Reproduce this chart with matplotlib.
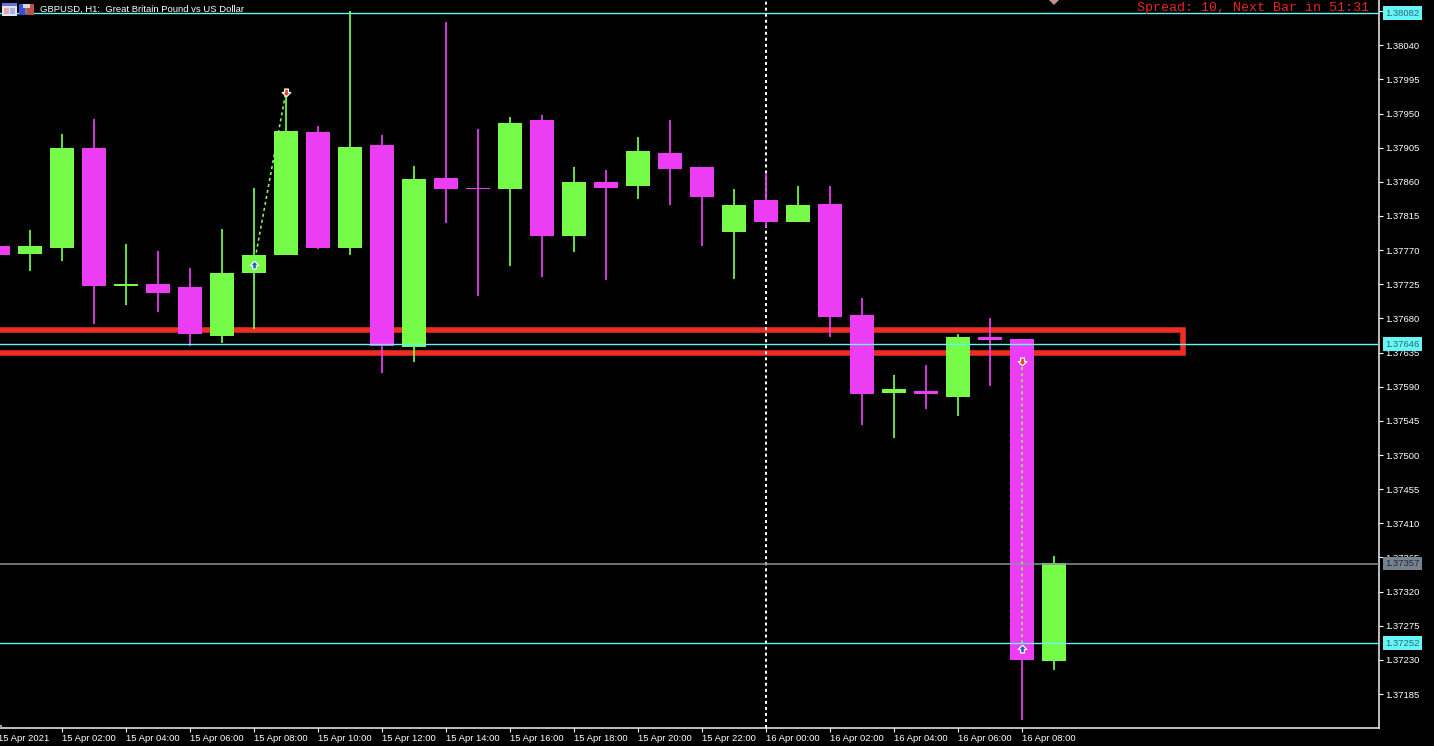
import matplotlib
matplotlib.use('Agg')
import matplotlib.pyplot as plt
from matplotlib.patches import Rectangle

# Candle data (GBPUSD H1, one bar per hour from 15 Apr 00:00)
hours = list(range(34))
opens = [1.37776, 1.37765, 1.37773, 1.37904, 1.37723, 1.37726, 1.37722, 1.37657, 1.37740,
         1.37764, 1.37926, 1.37773, 1.37908, 1.37643, 1.37865, 1.37852, 1.37851, 1.37941,
         1.37789, 1.37860, 1.37855, 1.37898, 1.37879, 1.37794, 1.37836, 1.37807, 1.37831,
         1.37684, 1.37582, 1.37585, 1.37577, 1.37655, 1.37653, 1.37229]
highs = [1.37776, 1.37797, 1.37923, 1.37943, 1.37778, 1.37769, 1.37747, 1.37798, 1.37852,
         1.37977, 1.37933, 1.38085, 1.37922, 1.37881, 1.38070, 1.37929, 1.37946, 1.37948,
         1.37880, 1.37876, 1.37919, 1.37942, 1.37879, 1.37851, 1.37872, 1.37854, 1.37854,
         1.37707, 1.37605, 1.37619, 1.37660, 1.37680, 1.37653, 1.37367]
lows = [1.37763, 1.37742, 1.37756, 1.37672, 1.37698, 1.37688, 1.37644, 1.37647, 1.37666,
        1.37764, 1.37772, 1.37763, 1.37608, 1.37623, 1.37806, 1.37709, 1.37749, 1.37734,
        1.37767, 1.37730, 1.37838, 1.37829, 1.37775, 1.37732, 1.37801, 1.37807, 1.37655,
        1.37539, 1.37522, 1.37560, 1.37551, 1.37591, 1.37151, 1.37217]
closes = [1.37763, 1.37775, 1.37905, 1.37723, 1.37726, 1.37714, 1.37659, 1.37740, 1.37764,
          1.37927, 1.37773, 1.37906, 1.37644, 1.37864, 1.37850, 1.37850, 1.37938, 1.37789,
          1.37860, 1.37852, 1.37900, 1.37877, 1.37840, 1.37829, 1.37807, 1.37829, 1.37682,
          1.37580, 1.37587, 1.37581, 1.37656, 1.37652, 1.37230, 1.37358]

# Price axis
price_ticks = [1.38085, 1.38040, 1.37995, 1.37950, 1.37905, 1.37860, 1.37815, 1.37770, 1.37725,
               1.37680, 1.37635, 1.37590, 1.37545, 1.37500, 1.37455, 1.37410, 1.37365, 1.37320,
               1.37275, 1.37230, 1.37185]

# Time axis
time_ticks = list(range(0, 34, 2))
time_labels = ['15 Apr 2021', '15 Apr 02:00', '15 Apr 04:00', '15 Apr 06:00', '15 Apr 08:00',
               '15 Apr 10:00', '15 Apr 12:00', '15 Apr 14:00', '15 Apr 16:00', '15 Apr 18:00',
               '15 Apr 20:00', '15 Apr 22:00', '16 Apr 00:00', '16 Apr 02:00', '16 Apr 04:00',
               '16 Apr 06:00', '16 Apr 08:00']

# Horizontal levels
cyan_levels = [1.38082, 1.37646, 1.37252]
bid_level = 1.37357

# Trades: entry / exit arrows joined by a dashed line
trade_hours = [(8, 9), (32, 32)]
trade_prices = [(1.37751, 1.37979), (1.37624, 1.37245)]
trade_open_up = [True, False]

# Red zone
zone_top = 1.376645
zone_bottom = 1.37634
zone_right = 37.02

GREEN = '#76fb48'
MAGENTA = '#ec3cf4'
RED = '#ee2e22'
CYAN = '#66f6f6'
GRAY = '#8793a1'
FONT = 'Liberation Sans'
W, H = 1434, 746

fig = plt.figure(figsize=(W / 100, H / 100), dpi=100, facecolor='black')
ax = fig.add_axes([-4 / W, (H - 728) / H, 1383 / W, 728 / H], facecolor='black')
ax.set_xlim(-0.0625, 43.156)
ax.set_ylim(1.371403, 1.380996)

# zone sits behind everything else
ax.add_patch(Rectangle((-2, zone_bottom), zone_right + 2, zone_top - zone_bottom, fill=False,
                       edgecolor=RED, linewidth=4.0, joinstyle='miter', zorder=1))

# period separator
ax.axvline(24, color='white', linewidth=1.4, linestyle=(0, (1.55, 1.55)), zorder=1.5)

# candles
colors = [GREEN if c >= o else MAGENTA for o, c in zip(opens, closes)]
ax.vlines(hours, lows, highs, colors=colors, linewidth=1.25, zorder=2)
bottoms = [min(o, c) for o, c in zip(opens, closes)]
heights = [abs(c - o) for o, c in zip(opens, closes)]
ax.bar(hours, heights, bottom=bottoms, width=0.72, color=colors, linewidth=0, zorder=2.2)

# levels
for level in cyan_levels:
    ax.axhline(level, color=CYAN, linewidth=1.0, zorder=3)
ax.axhline(bid_level, color=GRAY, linewidth=1.1, zorder=3)

# trades
up_arrow = [(0, 1), (1, 0), (0.45, 0), (0.45, -0.8), (-0.45, -0.8), (-0.45, 0), (-1, 0), (0, 1)]
down_arrow = [(x, -y) for x, y in up_arrow]
for xs, ys, open_up in zip(trade_hours, trade_prices, trade_open_up):
    ax.plot(xs, ys, color='#84fb60', linewidth=1.15, linestyle=(0, (1.9, 1.9)), zorder=3.5)
    first = up_arrow if open_up else down_arrow
    second = down_arrow if open_up else up_arrow
    first_color = '#1f5fb5' if open_up else '#e2431e'
    second_color = '#e2431e' if open_up else '#1f5fb5'
    ax.plot(xs[0], ys[0], marker=first, markersize=6.2, markerfacecolor=first_color,
            markeredgecolor='white', markeredgewidth=0.9, zorder=4)
    ax.plot(xs[1], ys[1], marker=second, markersize=6.2, markerfacecolor=second_color,
            markeredgecolor='white', markeredgewidth=0.9, zorder=4)

# pending arrow cut off at the top of the window
ax.plot(33, 1.38100, marker='D', markersize=5.6, color='#c48e8e', markeredgewidth=0, zorder=4)

# axes
for side in ['top', 'left']:
    ax.spines[side].set_visible(False)
for side in ['right', 'bottom']:
    ax.spines[side].set_color('#f2f2f2')
    ax.spines[side].set_linewidth(1.1)

ax.yaxis.tick_right()
ax.set_yticks(price_ticks)
ax.set_yticklabels(['%.5f' % p for p in price_ticks], fontfamily=FONT, fontsize=6.8, color='white')
ax.tick_params(axis='y', colors='white', length=3, width=0.8, pad=1.5)

ax.set_xticks(time_ticks)
ax.set_xticklabels(time_labels, fontfamily=FONT, fontsize=6.8, color='white', ha='left')
ax.tick_params(axis='x', colors='white', length=3, width=0.8, pad=1.5)

# price tags on the axis
tag_x = 1.0
for level, box, txt in [(cyan_levels[0], CYAN, '#2d6a72'), (cyan_levels[1], CYAN, '#2d6a72'),
                        (cyan_levels[2], CYAN, '#2d6a72'), (bid_level, '#76838f', '#222831')]:
    ax.annotate('%.5f' % level, xy=(tag_x, level), xycoords=('axes fraction', 'data'),
                xytext=(4.4, 0), textcoords='offset points', va='center', ha='left',
                fontfamily=FONT, fontsize=6.8, color=txt, annotation_clip=False, zorder=6,
                bbox=dict(boxstyle='square,pad=0.25', facecolor=box, edgecolor='none'))

# window title and status text
fig.text(40 / W, 1 - 9 / H, 'GBPUSD, H1:  Great Britain Pound vs US Dollar', color='white',
         fontfamily=FONT, fontsize=6.8, va='center', ha='left')
fig.text(1137 / W, 1 - 8.5 / H, 'Spread: 10, Next Bar in 51:31', color='#e8261c',
         fontfamily='Liberation Mono', fontsize=9.6, va='center', ha='left')


# small toolbar icons next to the title
def px_rect(x, y, w, h, color):
    fig.add_artist(Rectangle((x / W, 1 - (y + h) / H), w / W, h / H, facecolor=color,
                             edgecolor='none', zorder=10))


px_rect(2, 3, 15, 13, '#dfe3f5')
px_rect(2, 3, 15, 3, '#6670d8')
px_rect(4, 8, 5, 6, '#e8a8a8')
px_rect(10, 8, 5, 6, '#a8b0e8')
px_rect(19, 4, 8, 11, '#3a4fd8')
px_rect(27, 4, 7, 11, '#c0504a')
px_rect(23, 4, 7, 4, '#d8d8d8')
px_rect(25, 8, 2, 6, '#808080')
px_rect(0, 725, 2, 3, '#c48e8e')

fig.savefig('out.png', dpi=100, facecolor='black')
